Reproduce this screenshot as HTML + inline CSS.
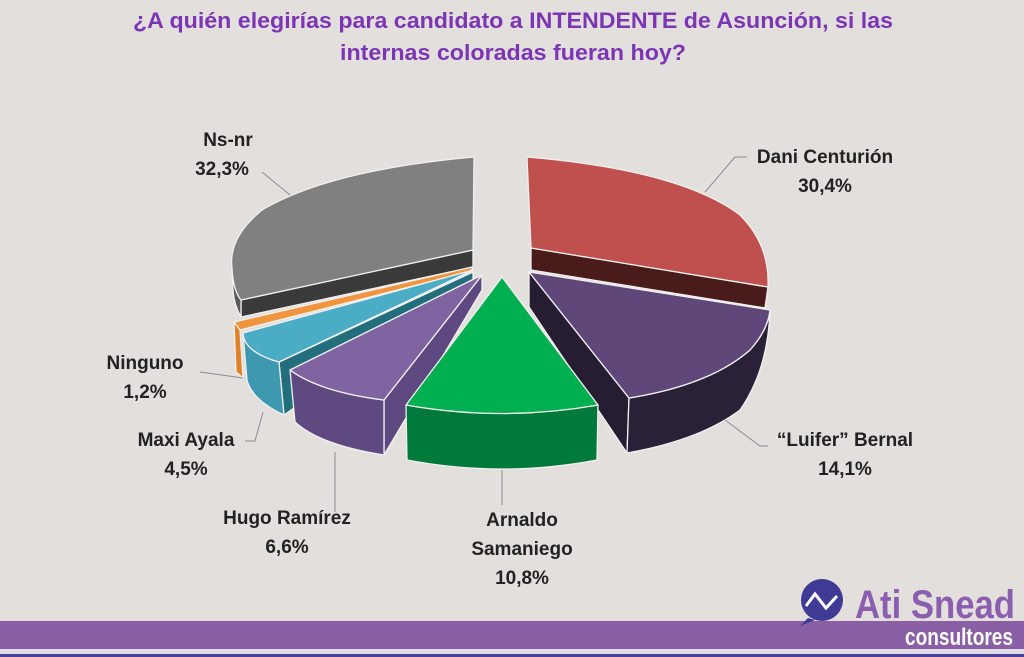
<!DOCTYPE html>
<html><head><meta charset="utf-8"><style>
html,body{margin:0;padding:0;background:#e3dfdc;}
svg{display:block}
text{font-family:"Liberation Sans",sans-serif;font-weight:bold;}
</style></head><body>
<svg width="1024" height="657" viewBox="0 0 1024 657" xmlns="http://www.w3.org/2000/svg">
<rect width="1024" height="657" fill="#e3dfdc"/>
<text x="513" y="28" font-size="22" fill="#7b35b5" text-anchor="middle" textLength="760" lengthAdjust="spacingAndGlyphs">¿A quién elegirías para candidato a INTENDENTE de Asunción, si las</text>
<text x="513" y="60" font-size="22" fill="#7b35b5" text-anchor="middle" textLength="346" lengthAdjust="spacingAndGlyphs">internas coloradas fueran hoy?</text>

<g stroke="#f2f0f0" stroke-width="1.3" stroke-linejoin="round">
<path d="M473,250 L473,267 L241,317 L241,300 Z" fill="#3a3a3a"/>
<path d="M232,268 Q233,290 241,300 L241,317 Q234,305 233,290 Z" fill="#5a5a5a"/>
<path d="M473,250 L474,157 Q330,170 262,210 Q228,238 232,268 Q233,290 241,300 Z" fill="#808080"/>
<path d="M472,267 L472,271 L240,330 L234,322 Z" fill="#f0943e"/>
<path d="M234,322 L240,330 L243,378 L236,372 Z" fill="#e0822b"/>
<path d="M473,272 L279,362 L284,415 L473,282 Z" fill="#226e7c"/>
<path d="M243,333 Q244,352 279,362 L284,415 Q252,400 247,380 Z" fill="#3e98b0"/>
<path d="M473,270 L243,333 Q244,352 279,362 Z" fill="#4bacc6"/>
<path d="M482,275 L384,400 L384,455 L482,290 Z" fill="#5e4880"/>
<path d="M290,370 Q320,392 384,400 L384,455 Q320,445 295,422 Z" fill="#5e4a80"/>
<path d="M482,275 L290,370 Q320,392 384,400 Z" fill="#8064a2"/>
<path d="M529,272 L629,398 L627,453 L529,307 Z" fill="#261d33"/>
<path d="M770,310 Q768,370 740,410 Q700,440 627,453 L629,398 Q710,385 750,350 Q768,330 770,310 Z" fill="#2a2038"/>
<path d="M529,272 L770,310 Q768,330 750,350 Q710,385 629,398 Z" fill="#5f4879"/>
<path d="M531,248 L531,270 L765,308 L768,287 Z" fill="#4a1b1b"/>
<path d="M531,248 L527,157 Q680,170 740,215 Q770,245 768,287 Z" fill="#c0504d"/>
<path d="M406,405 Q502,422 598,405 L597,460 Q502,478 407,460 Z" fill="#007a3a"/>
<path d="M502,277 L406,405 Q502,422 598,405 Z" fill="#00b050"/>
</g>

<g stroke="#8c8c8c" stroke-width="1" fill="none">
<path d="M262,172 L290,195"/>
<path d="M747,157 L735,157 L705,192"/>
<path d="M725,420 L760,446 L768,446"/>
<path d="M502,470 L502,505"/>
<path d="M335,452 L335,512"/>
<path d="M263,412 L255,441 L245,441"/>
<path d="M243,378 L200,372"/>
</g>

<g font-size="19" fill="#222" text-anchor="middle">
<text x="228" y="146">Ns-nr</text><text x="222" y="175">32,3%</text>
<text x="825" y="163">Dani Centurión</text><text x="825" y="192">30,4%</text>
<text x="845" y="446">“Luifer” Bernal</text><text x="845" y="475">14,1%</text>
<text x="522" y="526">Arnaldo</text><text x="522" y="555">Samaniego</text><text x="522" y="584">10,8%</text>
<text x="287" y="524">Hugo Ramírez</text><text x="287" y="553">6,6%</text>
<text x="186" y="446">Maxi Ayala</text><text x="186" y="475">4,5%</text>
<text x="145" y="369">Ninguno</text><text x="145" y="398">1,2%</text>
</g>

<rect x="0" y="621" width="1024" height="28" fill="#8a5fa5"/>
<rect x="0" y="649" width="1024" height="5" fill="#e0dce6"/>
<rect x="0" y="654" width="1024" height="3" fill="#4a3f98"/>

<circle cx="822" cy="600" r="21" fill="#3f3a94"/>
<path d="M808,618 L800,626 L815,620 Z" fill="#3f3a94"/>
<polyline points="806,606 815,594 826,608 837,596" fill="none" stroke="#fff" stroke-width="3"/>
<text x="855" y="618" font-size="40" fill="#8b5fb0" textLength="160" lengthAdjust="spacingAndGlyphs">Ati Snead</text>
<text x="905" y="645" font-size="24" fill="#fff" textLength="108" lengthAdjust="spacingAndGlyphs">consultores</text>
</svg>
</body></html>
